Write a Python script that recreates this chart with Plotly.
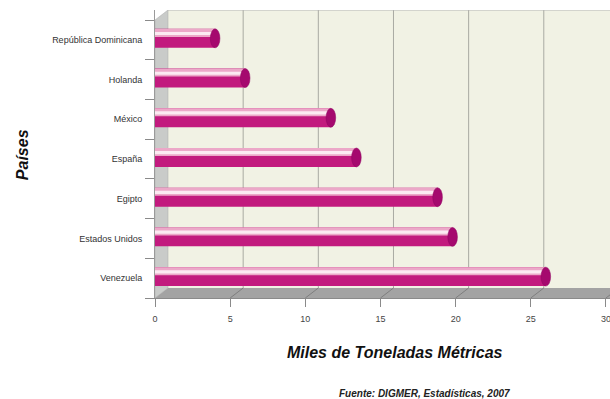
""" Exportaciones por país (miles de toneladas métricas), barras tipo cilindro 3D """
import plotly.graph_objects as go

paises = ['Venezuela', 'Estados Unidos', 'Egipto', 'España', 'México',
          'Holanda', 'República Dominicana']
toneladas = [26.0, 19.8, 18.8, 13.4, 11.7, 6.0, 4.0]
x_ticks = [0, 5, 10, 15, 20, 25, 30]

# profundidad del efecto 3D (en unidades de los ejes)
DX = 0.865
DY = 0.252
X_MAX = 30.27
Y_MIN, Y_MAX = -0.5, 6.752

MAGENTA = '#C21A7E'
ROSA = '#ECA8C8'
BRILLO = '#FCEAF2'
TAPA = '#A5096E'

fig = go.Figure()
pos = list(range(len(paises)))

# cuerpo del cilindro + franjas de brillo
for color, offset, width in [(MAGENTA, -0.2, 0.477), (ROSA, 0.075, 0.2), (BRILLO, 0.12, 0.08)]:
    fig.add_trace(go.Bar(
        x=toneladas, y=pos, orientation='h',
        marker={'color': color, 'line': {'width': 0}},
        offset=offset, width=width, hoverinfo='skip', showlegend=False
    ))

shapes = []
# pared del fondo
shapes.append(dict(type='rect', xref='x', yref='y', x0=DX, x1=X_MAX, y0=Y_MIN + DY, y1=Y_MAX,
                   fillcolor='#F1F2E4', line={'width': 0}, layer='below'))
# pared izquierda
shapes.append(dict(type='path', xref='x', yref='y',
                   path=f'M 0 {Y_MIN} L {DX} {Y_MIN + DY} L {DX} {Y_MAX} L 0 {Y_MAX - DY} Z',
                   fillcolor='#C9CBC9', line={'color': '#AAAAAA', 'width': 0.5}, layer='below'))
# piso
shapes.append(dict(type='path', xref='x', yref='y',
                   path=f'M 0 {Y_MIN} L {X_MAX} {Y_MIN} L {X_MAX} {Y_MIN + DY} L {DX} {Y_MIN + DY} Z',
                   fillcolor='#A3A3A3', line={'width': 0}, layer='below'))
# rejilla del fondo y líneas del piso
for t in x_ticks[1:]:
    shapes.append(dict(type='line', xref='x', yref='y', x0=t + DX, x1=t + DX,
                       y0=Y_MIN + DY, y1=Y_MAX, line={'color': '#A9AAA2', 'width': 1}, layer='below'))
    shapes.append(dict(type='line', xref='x', yref='y', x0=t, x1=t + DX,
                       y0=Y_MIN, y1=Y_MIN + DY, line={'color': '#7E7E7E', 'width': 1}, layer='below'))
# borde superior de la pared
shapes.append(dict(type='line', xref='x', yref='y', x0=DX, x1=X_MAX, y0=Y_MAX, y1=Y_MAX,
                   line={'color': '#B5B5B5', 'width': 1}, layer='below'))
# tapas de los cilindros
for i, v in enumerate(toneladas):
    shapes.append(dict(type='circle', xref='x', yref='y', x0=v - 0.32, x1=v + 0.32,
                       y0=i - 0.2, y1=i + 0.277, fillcolor=TAPA,
                       line={'color': '#8E0560', 'width': 0.5}, layer='above'))

fig.update_layout(
    width=610, height=399,
    margin={'l': 155, 'r': 0, 't': 10, 'b': 101},
    paper_bgcolor='white', plot_bgcolor='white',
    barmode='overlay', showlegend=False,
    font={'family': 'Liberation Sans, Arial', 'color': '#333333', 'size': 9},
    shapes=shapes,
    xaxis={
        'range': [0, X_MAX], 'tickvals': x_ticks, 'showgrid': False, 'zeroline': False,
        'showline': True, 'linecolor': '#8A8A8A', 'linewidth': 1,
        'ticks': 'outside', 'ticklen': 8, 'tickcolor': '#8A8A8A',
        'ticklabelstandoff': 4, 'ticklabeloverflow': 'allow',
        'tickfont': {'size': 9, 'color': '#444444'}
    },
    yaxis={
        'range': [Y_MIN, Y_MAX], 'tickvals': pos, 'ticktext': paises,
        'showgrid': False, 'zeroline': False, 'ticks': '',
        'showline': True, 'linecolor': '#9A9A9A', 'linewidth': 1,
        'ticklabelstandoff': 10, 'tickfont': {'size': 9, 'color': '#333333'},
        'minor': {'tickvals': [k - 0.5 for k in range(len(paises) + 1)],
                  'ticks': 'outside', 'ticklen': 9, 'tickcolor': '#8A8A8A'}
    },
    annotations=[
        dict(text='<b><i>Países</i></b>', xref='paper', yref='paper', x=-0.292, y=0.4965,
             xanchor='center', yanchor='middle',
             textangle=-90, showarrow=False, font={'size': 16, 'color': '#111111'}),
        dict(text='<b><i>Miles de Toneladas Métricas</i></b>', xref='paper', yref='paper',
             x=0.527, y=-0.1875, xanchor='center', yanchor='middle',
             showarrow=False, font={'size': 16, 'color': '#111111'}),
        dict(text='<b><i>Fuente: DIGMER, Estadísticas, 2007</i></b>', xref='paper', yref='paper',
             x=0.593, y=-0.33, xanchor='center', yanchor='middle',
             showarrow=False, font={'size': 10, 'color': '#222222'}),
    ]
)

# la página trae margen de 8px en <body>; se quita para que la figura empiece en (0, 0)
fig.write_html("out.html", config={'displayModeBar': False},
               post_script="document.body.style.margin='0';")
